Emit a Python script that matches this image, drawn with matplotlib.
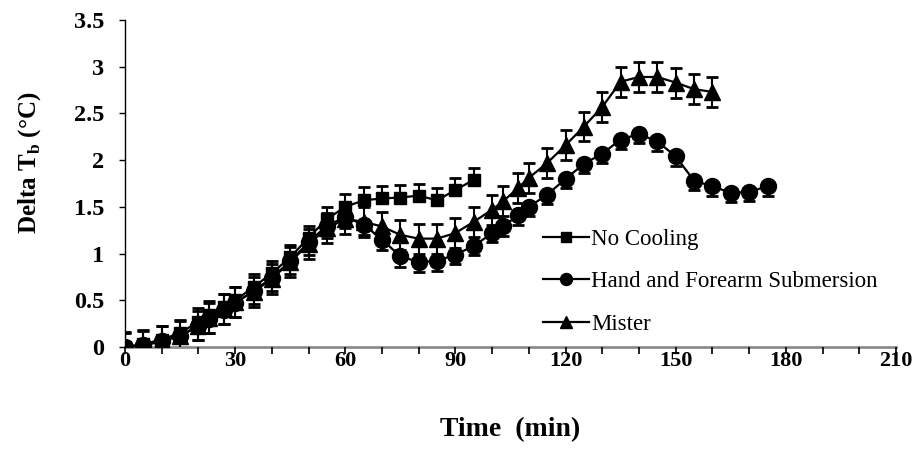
import matplotlib
matplotlib.use("Agg")
import matplotlib.pyplot as plt
import numpy as np

plt.rcParams['font.family'] = ['Liberation Serif', 'DejaVu Serif']
plt.rcParams['mathtext.fontset'] = 'custom'
plt.rcParams['mathtext.rm'] = 'Liberation Serif'
plt.rcParams['mathtext.bf'] = 'Liberation Serif:bold'

# ---- data ----
t_no = [0, 5, 10, 15, 20, 23, 27, 30, 35, 40, 45, 50, 55, 60, 65, 70, 75, 80, 85, 90, 95]
no_cooling = [0.0, 0.03, 0.08, 0.15, 0.27, 0.34, 0.43, 0.50, 0.64, 0.79, 0.96, 1.17, 1.37,
              1.50, 1.57, 1.59, 1.60, 1.62, 1.57, 1.68, 1.79]
no_cooling_err = [0.15, 0.14, 0.14, 0.14, 0.15, 0.15, 0.14, 0.14, 0.14, 0.13, 0.13, 0.13, 0.13,
                  0.14, 0.14, 0.13, 0.13, 0.12, 0.13, 0.13, 0.13]

t_hand = [0, 5, 10, 15, 20, 23, 27, 30, 35, 40, 45, 50, 55, 60, 65, 70, 75, 80, 85, 90, 95,
          100, 103, 107, 110, 115, 120, 125, 130, 135, 140, 145, 150, 155, 160, 165, 170, 175]
hand = [0.0, 0.02, 0.06, 0.12, 0.22, 0.30, 0.40, 0.47, 0.60, 0.74, 0.92, 1.12, 1.30, 1.39,
        1.31, 1.15, 0.97, 0.91, 0.92, 0.99, 1.08, 1.22, 1.29, 1.41, 1.50, 1.63, 1.80, 1.96,
        2.07, 2.22, 2.28, 2.20, 2.04, 1.78, 1.72, 1.65, 1.66, 1.72]
hand_err = [0.15, 0.15, 0.15, 0.15, 0.15, 0.15, 0.15, 0.15, 0.14, 0.14, 0.14, 0.14, 0.13, 0.12,
            0.11, 0.11, 0.11, 0.11, 0.11, 0.10, 0.10, 0.10, 0.10, 0.10, 0.10, 0.10, 0.10, 0.10,
            0.10, 0.10, 0.10, 0.10, 0.10, 0.10, 0.10, 0.10, 0.10, 0.10]

t_mister = [0, 5, 10, 15, 20, 23, 27, 30, 35, 40, 45, 50, 55, 60, 65, 70, 75, 80, 85, 90, 95,
            100, 103, 107, 110, 115, 120, 125, 130, 135, 140, 145, 150, 155, 160]
mister = [0.0, 0.02, 0.06, 0.12, 0.23, 0.31, 0.41, 0.48, 0.59, 0.73, 0.91, 1.10, 1.27, 1.37,
          1.34, 1.29, 1.20, 1.16, 1.16, 1.22, 1.34, 1.47, 1.56, 1.70, 1.81, 1.97, 2.16, 2.36,
          2.57, 2.84, 2.89, 2.89, 2.83, 2.76, 2.73]
mister_err = [0.16] * len(mister)

legend_labels = ["No Cooling", "Hand and Forearm Submersion", "Mister"]
x_ticks = list(range(0, 211, 10))
x_labels = [str(v) if v % 30 == 0 else "" for v in x_ticks]
y_ticks = [0, 0.5, 1, 1.5, 2, 2.5, 3, 3.5]
y_labels = ["0", "0.5", "1", "1.5", "2", "2.5", "3", "3.5"]

# ---- figure ----
fig = plt.figure(figsize=(9.21, 4.70), dpi=100)
ax = fig.add_axes([125 / 921, 1 - 347 / 470, 771 / 921, 327 / 470])

lw = 1.6
cap = 4.5
z = np.zeros(len(no_cooling))
ax.errorbar(t_no, no_cooling, yerr=[z, no_cooling_err], fmt='none', ecolor='black',
            elinewidth=1.5, capsize=cap, capthick=2.0, zorder=2)
ax.errorbar(t_hand, hand, yerr=[hand_err, np.zeros(len(hand))], fmt='none', ecolor='black',
            elinewidth=1.5, capsize=cap, capthick=2.0, zorder=2)
ax.errorbar(t_mister, mister, yerr=mister_err, fmt='none', ecolor='black',
            elinewidth=1.5, capsize=cap, capthick=2.0, zorder=2)

h1, = ax.plot(t_no, no_cooling, '-s', color='black', lw=lw, ms=9, label=legend_labels[0], zorder=3)
h2, = ax.plot(t_hand, hand, '-o', color='black', lw=lw, ms=11.5, label=legend_labels[1], zorder=3)
h3, = ax.plot(t_mister, mister, '-^', color='black', lw=lw, ms=12, label=legend_labels[2], zorder=3)

ax.set_xlim(0, 210)
ax.set_ylim(0, 3.5)
ax.set_xticks(x_ticks)
ax.set_xticklabels(x_labels)
ax.set_yticks(y_ticks)
ax.set_yticklabels(y_labels)

for s in ['top', 'right']:
    ax.spines[s].set_visible(False)
ax.spines['left'].set_color('black')
ax.spines['left'].set_linewidth(1.0)
ax.spines['bottom'].set_color('#8c8c8c')
ax.spines['bottom'].set_linewidth(2.0)
ax.spines['bottom'].set_zorder(1)

ax.tick_params(axis='x', direction='out', length=5, width=1.2, color='black', pad=-2,
               labelsize=16)
ax.tick_params(axis='y', direction='out', length=4, width=1.0, color='black', pad=11,
               labelsize=17.5)
for lab in ax.get_xticklabels() + ax.get_yticklabels():
    lab.set_fontweight('bold')

ax.set_ylabel(r'Delta T$_{\mathbf{b}}$ (°C)', fontsize=18, fontweight='bold')
ax.yaxis.set_label_coords(-0.106, 0.563)
ax.set_xlabel('Time  (min)', fontsize=20, fontweight='bold')
ax.xaxis.set_label_coords(0.499, -0.215)

leg = ax.legend(handles=[h1, h2, h3], loc='center left', bbox_to_anchor=(0.542, 0.199),
                frameon=False, fontsize=16.5, handlelength=2.0, handletextpad=0.1,
                labelspacing=0.92, borderpad=0, borderaxespad=0, numpoints=1,
                markerscale=0.75)

fig.savefig('out.png', dpi=100)
